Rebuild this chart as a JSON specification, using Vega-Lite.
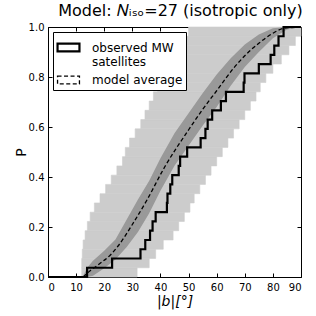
{
  "$schema": "https://vega.github.io/schema/vega-lite/v6.json",
  "width": 253,
  "height": 250,
  "autosize": {"type": "none"},
  "padding": {"left": 48, "top": 27, "right": 15, "bottom": 39},
  "title": {"text": "Model: 𝑁ᵢₛₒ=27 (isotropic only)", "fontSize": 16, "font": "DejaVu Sans", "fontWeight": "normal", "offset": 3, "color": "black", "dx": 6},
  "config": {
    "font": "DejaVu Sans",
    "view": {"stroke": "black", "strokeWidth": 1},
    "axis": {"domain": false, "grid": false, "tickColor": "black", "tickSize": -4, "labelFontSize": 10, "labelColor": "black", "titleColor": "black", "titleFontWeight": "normal", "titleFontSize": 14},
    "legend": {"orient": "top-left", "offset": 5, "fillColor": "white", "strokeColor": "black", "padding": 3, "labelFontSize": 12, "labelLineHeight": 13, "labelColor": "black", "symbolType": "M-1,-0.36H1V0.36H-1Z", "symbolSize": 480, "symbolStrokeColor": "black", "rowPadding": 0, "labelOffset": 11}
  },
  "datasets": {
    "light": [
      {"p": 0.0, "p2": 0.0370, "lo": 12.0, "hi": 31.7},
      {"p": 0.0370, "p2": 0.0741, "lo": 12.0, "hi": 36.0},
      {"p": 0.0741, "p2": 0.1111, "lo": 12.2, "hi": 38.3},
      {"p": 0.1111, "p2": 0.1481, "lo": 12.5, "hi": 41.0},
      {"p": 0.1481, "p2": 0.1852, "lo": 13.2, "hi": 44.5},
      {"p": 0.1852, "p2": 0.2222, "lo": 14.0, "hi": 46.5},
      {"p": 0.2222, "p2": 0.2593, "lo": 15.0, "hi": 48.5},
      {"p": 0.2593, "p2": 0.2963, "lo": 16.5, "hi": 50.5},
      {"p": 0.2963, "p2": 0.3333, "lo": 18.5, "hi": 52.0},
      {"p": 0.3333, "p2": 0.3704, "lo": 20.5, "hi": 54.0},
      {"p": 0.3704, "p2": 0.4074, "lo": 22.5, "hi": 56.0},
      {"p": 0.4074, "p2": 0.4444, "lo": 24.5, "hi": 58.0},
      {"p": 0.4444, "p2": 0.4815, "lo": 26.5, "hi": 60.0},
      {"p": 0.4815, "p2": 0.5185, "lo": 27.5, "hi": 62.0},
      {"p": 0.5185, "p2": 0.5556, "lo": 29.0, "hi": 64.0},
      {"p": 0.5556, "p2": 0.5926, "lo": 31.0, "hi": 66.0},
      {"p": 0.5926, "p2": 0.6296, "lo": 33.0, "hi": 68.0},
      {"p": 0.6296, "p2": 0.6667, "lo": 34.5, "hi": 70.0},
      {"p": 0.6667, "p2": 0.7037, "lo": 36.0, "hi": 72.0},
      {"p": 0.7037, "p2": 0.7407, "lo": 37.5, "hi": 74.0},
      {"p": 0.7407, "p2": 0.7778, "lo": 39.0, "hi": 75.5},
      {"p": 0.7778, "p2": 0.8148, "lo": 41.0, "hi": 77.5},
      {"p": 0.8148, "p2": 0.8519, "lo": 42.5, "hi": 80.0},
      {"p": 0.8519, "p2": 0.8889, "lo": 44.0, "hi": 83.0},
      {"p": 0.8889, "p2": 0.9259, "lo": 45.5, "hi": 85.7},
      {"p": 0.9259, "p2": 0.9630, "lo": 47.5, "hi": 88.0},
      {"p": 0.9630, "p2": 1.0, "lo": 50.0, "hi": 90.0}
    ],
    "band": [
      {"b": 12.3, "lo": 0.0, "hi": 0.0},
      {"b": 14, "lo": 0.0, "hi": 0.038},
      {"b": 16, "lo": 0.005, "hi": 0.065},
      {"b": 20, "lo": 0.035, "hi": 0.105},
      {"b": 24, "lo": 0.07, "hi": 0.15},
      {"b": 28, "lo": 0.12, "hi": 0.23},
      {"b": 32, "lo": 0.18, "hi": 0.31},
      {"b": 36, "lo": 0.255, "hi": 0.385},
      {"b": 40, "lo": 0.345, "hi": 0.475},
      {"b": 45, "lo": 0.445, "hi": 0.575},
      {"b": 50, "lo": 0.525, "hi": 0.655},
      {"b": 55, "lo": 0.605, "hi": 0.735},
      {"b": 60, "lo": 0.68, "hi": 0.81},
      {"b": 65, "lo": 0.765, "hi": 0.875},
      {"b": 70, "lo": 0.84, "hi": 0.93},
      {"b": 75, "lo": 0.9, "hi": 0.97},
      {"b": 80, "lo": 0.955, "hi": 0.995},
      {"b": 85, "lo": 0.99, "hi": 1.0},
      {"b": 90, "lo": 1.0, "hi": 1.0}
    ],
    "mean": [
      {"b": 12.5, "P": 0.0, "series": "model average"},
      {"b": 15, "P": 0.025, "series": "model average"},
      {"b": 18, "P": 0.05, "series": "model average"},
      {"b": 22.8, "P": 0.095, "series": "model average"},
      {"b": 25, "P": 0.125, "series": "model average"},
      {"b": 30, "P": 0.21, "series": "model average"},
      {"b": 35.3, "P": 0.31, "series": "model average"},
      {"b": 41.5, "P": 0.44, "series": "model average"},
      {"b": 50.1, "P": 0.59, "series": "model average"},
      {"b": 55, "P": 0.67, "series": "model average"},
      {"b": 60, "P": 0.745, "series": "model average"},
      {"b": 66, "P": 0.835, "series": "model average"},
      {"b": 70, "P": 0.885, "series": "model average"},
      {"b": 75, "P": 0.935, "series": "model average"},
      {"b": 80, "P": 0.975, "series": "model average"},
      {"b": 84, "P": 0.995, "series": "model average"},
      {"b": 90, "P": 1.0, "series": "model average"}
    ],
    "obs": [
      {"b": 0, "P": 0.0, "series": "observed MW satellites"},
      {"b": 13.9, "P": 0.0370, "series": "observed MW satellites"},
      {"b": 22.8, "P": 0.0741, "series": "observed MW satellites"},
      {"b": 32.9, "P": 0.1111, "series": "observed MW satellites"},
      {"b": 34.6, "P": 0.1481, "series": "observed MW satellites"},
      {"b": 36.3, "P": 0.1852, "series": "observed MW satellites"},
      {"b": 37.2, "P": 0.2222, "series": "observed MW satellites"},
      {"b": 38.3, "P": 0.2593, "series": "observed MW satellites"},
      {"b": 42.3, "P": 0.2963, "series": "observed MW satellites"},
      {"b": 42.5, "P": 0.3333, "series": "observed MW satellites"},
      {"b": 43.5, "P": 0.3704, "series": "observed MW satellites"},
      {"b": 44.2, "P": 0.4074, "series": "observed MW satellites"},
      {"b": 46.5, "P": 0.4444, "series": "observed MW satellites"},
      {"b": 47.0, "P": 0.4815, "series": "observed MW satellites"},
      {"b": 49.5, "P": 0.5185, "series": "observed MW satellites"},
      {"b": 54.3, "P": 0.5556, "series": "observed MW satellites"},
      {"b": 56.0, "P": 0.5926, "series": "observed MW satellites"},
      {"b": 56.8, "P": 0.6296, "series": "observed MW satellites"},
      {"b": 58.4, "P": 0.6667, "series": "observed MW satellites"},
      {"b": 61.5, "P": 0.7037, "series": "observed MW satellites"},
      {"b": 63.3, "P": 0.7407, "series": "observed MW satellites"},
      {"b": 69.6, "P": 0.7778, "series": "observed MW satellites"},
      {"b": 69.9, "P": 0.8148, "series": "observed MW satellites"},
      {"b": 75.0, "P": 0.8519, "series": "observed MW satellites"},
      {"b": 79.2, "P": 0.8889, "series": "observed MW satellites"},
      {"b": 80.5, "P": 0.9259, "series": "observed MW satellites"},
      {"b": 82.0, "P": 0.9630, "series": "observed MW satellites"},
      {"b": 83.8, "P": 1.0, "series": "observed MW satellites"},
      {"b": 90, "P": 1.0, "series": "observed MW satellites"}
    ]
  },
  "layer": [
    {
      "data": {"name": "light"},
      "mark": {"type": "rect", "color": "#cccccc", "stroke": "#cccccc", "strokeWidth": 0.6},
      "encoding": {
        "x": {"field": "lo", "type": "quantitative", "scale": {"domain": [0, 90], "nice": false, "zero": false}, "axis": {"orient": "bottom", "values": [0,10,20,30,40,50,60,70,80,90], "title": "|b|[°]", "titleFontStyle": "italic", "labelPadding": 9, "titlePadding": 2}},
        "x2": {"field": "hi"},
        "y": {"field": "p", "type": "quantitative", "scale": {"domain": [0, 1], "nice": false}, "axis": {"orient": "left", "values": [0,0.2,0.4,0.6,0.8,1.0], "format": ".1f", "title": "P", "labelPadding": 8, "titlePadding": 0}},
        "y2": {"field": "p2"}
      }
    },
    {
      "data": {"name": "band"},
      "mark": {"type": "area", "color": "#999999", "opacity": 1},
      "encoding": {
        "x": {"field": "b", "type": "quantitative", "axis": {"orient": "top", "values": [0,10,20,30,40,50,60,70,80,90], "labels": false, "title": null}},
        "y": {"field": "lo", "type": "quantitative", "axis": {"orient": "right", "values": [0,0.2,0.4,0.6,0.8,1.0], "labels": false, "title": null}},
        "y2": {"field": "hi"}
      }
    },
    {
      "data": {"name": "mean"},
      "mark": {"type": "line", "color": "black", "interpolate": "monotone"},
      "encoding": {
        "x": {"field": "b", "type": "quantitative", "axis": null},
        "y": {"field": "P", "type": "quantitative", "axis": null},
        "strokeDash": {"field": "series", "type": "nominal", "scale": {"domain": ["observed MW satellites", "model average"], "range": [[1, 0], [4, 2.5]]}, "legend": {"title": null, "labelExpr": "datum.value == 'observed MW satellites' ? ['observed MW', 'satellites'] : datum.label"}},
        "strokeWidth": {"field": "series", "type": "nominal", "scale": {"domain": ["observed MW satellites", "model average"], "range": [2.2, 1.3]}, "legend": {"title": null, "labelExpr": "datum.value == 'observed MW satellites' ? ['observed MW', 'satellites'] : datum.label"}}
      }
    },
    {
      "data": {"name": "obs"},
      "mark": {"type": "line", "color": "black", "interpolate": "step-after"},
      "encoding": {
        "x": {"field": "b", "type": "quantitative", "axis": null},
        "y": {"field": "P", "type": "quantitative", "axis": null},
        "strokeDash": {"field": "series", "type": "nominal"},
        "strokeWidth": {"field": "series", "type": "nominal"}
      }
    }
  ],
  "resolve": {"axis": {"x": "independent", "y": "independent"}}
}
